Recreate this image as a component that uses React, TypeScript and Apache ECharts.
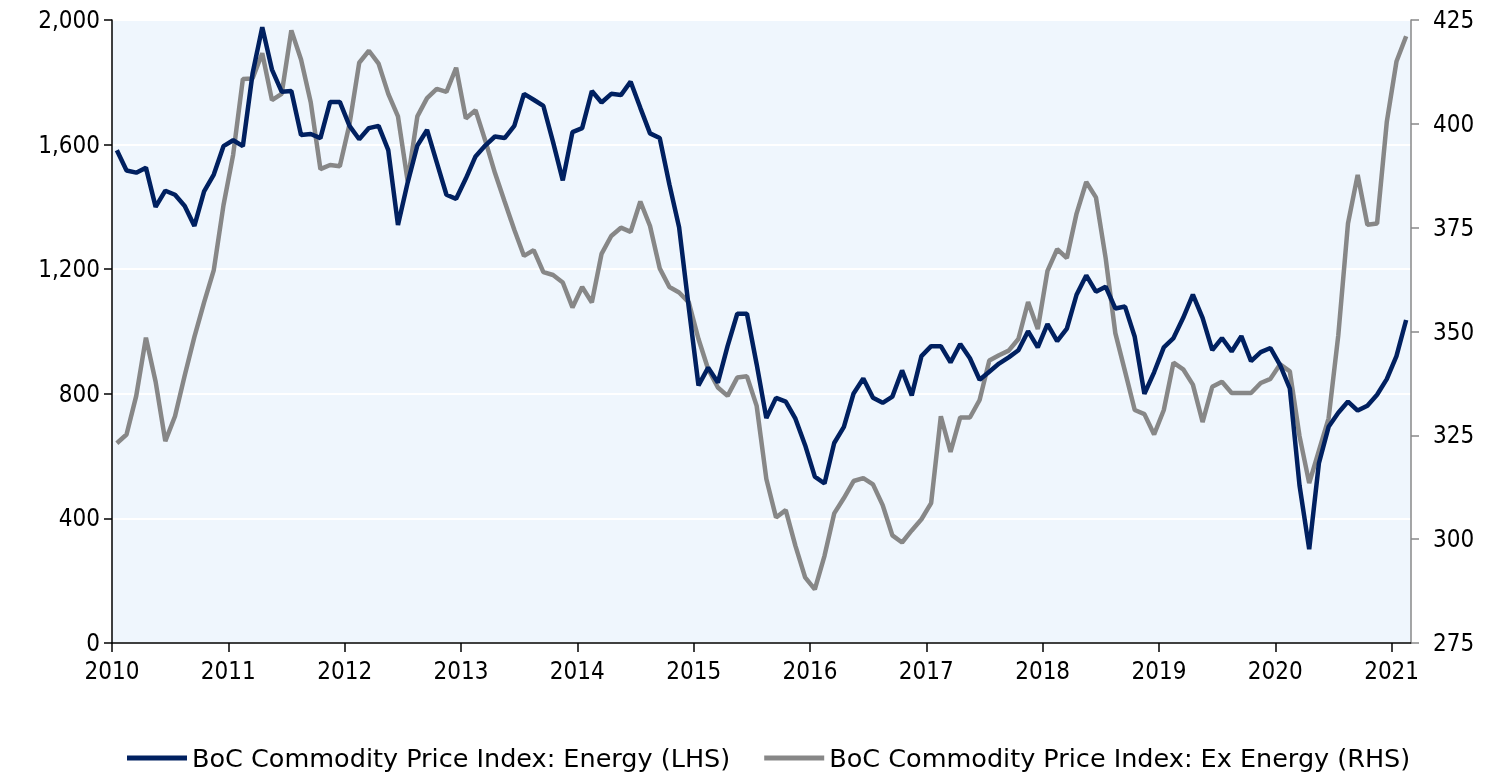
import React, { useEffect, useRef } from "react";
import * as echarts from "echarts";

const startYear = 2010;
const yearLabels = ["2010","2011","2012","2013","2014","2015","2016","2017","2018","2019","2020","2021"];

const energyLHS = [
  1582,1517,1510,1526,1400,1452,1439,1403,1339,1450,1504,1595,
  1614,1595,1828,1977,1841,1770,1772,1631,1634,1621,1737,1737,
  1660,1617,1653,1660,1582,1342,1478,1597,1647,1543,1439,1426,
  1491,1562,1597,1626,1621,1660,1763,1744,1724,1608,1485,1640,
  1653,1772,1735,1763,1759,1802,1718,1636,1621,1472,1335,1076,
  827,884,836,953,1057,1057,895,722,787,775,720,635,
  534,512,642,694,801,849,787,771,791,875,795,921,
  953,953,901,960,914,845,871,897,917,940,1001,949,
  1024,969,1009,1118,1180,1128,1144,1074,1080,983,800,869,
  949,979,1044,1118,1044,940,979,936,985,905,934,947,
  892,817,506,301,577,694,739,775,746,762,797,847,
  921,1037,
];

const exEnergyRHS = [
  323.1,325.2,334.5,348.5,337.9,323.6,329.6,339.4,348.7,357,364.8,380.4,
  392.6,410.8,410.9,417,405.7,407.2,422.5,415.5,405.2,389.1,390.1,389.8,
  399.9,414.7,417.6,414.5,407.2,401.8,386.2,401.8,406.2,408.4,407.7,413.5,
  401.3,403.3,396,388.2,381.3,374.5,368.2,369.6,364.3,363.6,361.8,355.8,
  360.7,357,368.7,373,375,374,381.3,375.4,365.2,360.7,359.4,357,
  348.2,340.9,336.5,334.5,338.9,339.2,332.1,314.5,305.2,307,298.4,290.8,
  287.9,296,306.2,309.9,314,314.7,313.2,308.2,300.9,299.2,302.1,304.8,
  308.7,329.6,321,329.3,329.3,333.5,343,344.3,345.4,348.2,357.1,350.6,
  364.6,369.8,367.7,378.4,386,382.3,367.7,349.6,340.4,331.1,330.1,325.2,
  331.1,342.5,340.9,337.2,328.2,336.7,337.9,335.2,335.2,335.2,337.6,338.6,
  342.1,340.4,324.8,313.5,321.3,329.1,349.1,376,387.7,375.7,376,400.4,
  415,421.1,
];

// month index -> position at the middle of that month on a month-count axis
const monthPos = (i: number) => i + 0.5;
const yearTicks = yearLabels.map((_, k) => k * 12);

const TICK_FONT = "'DejaVu Sans Condensed', 'Liberation Sans', sans-serif";
const LEGEND_FONT = "'DejaVu Sans', sans-serif";

export default function App() {
  const ref = useRef<HTMLDivElement>(null);
  useEffect(() => {
    if (!ref.current) return;
    const chart = echarts.init(ref.current, undefined, { renderer: "svg" });
    chart.setOption({
      animation: false,
      textStyle: { fontFamily: TICK_FONT },
      grid: {
        left: 112,
        right: 84,
        top: 20,
        bottom: 130,
        show: true,
        backgroundColor: "#EFF6FD",
        borderWidth: 0,
      },
      legend: {
        top: 740,
        left: 122,
        itemGap: 34,
        itemWidth: 60,
        itemHeight: 5,
        textStyle: { fontSize: 25.5, color: "#000", fontFamily: LEGEND_FONT },
        data: [
          { name: "BoC Commodity Price Index: Energy (LHS)", icon: "rect" },
          { name: "BoC Commodity Price Index: Ex Energy (RHS)", icon: "rect" },
        ],
      },
      xAxis: {
        type: "value",
        min: 0,
        max: energyLHS.length,
        interval: 12,
        axisLine: { show: true, lineStyle: { color: "#000", width: 1.5 } },
        axisTick: { show: true, length: 9, lineStyle: { color: "#000", width: 1.5 }, customValues: yearTicks },
        axisLabel: {
          customValues: yearTicks,
          formatter: (v: number) => String(startYear + Math.round(v / 12)),
          fontSize: 24,
          lineHeight: 20,
          color: "#000",
          margin: 18,
          fontFamily: TICK_FONT,
        },
        splitLine: { show: false },
      },
      yAxis: [
        {
          type: "value",
          min: 0,
          max: 2000,
          interval: 400,
          position: "left",
          axisLine: { show: true, lineStyle: { color: "#000", width: 1.5 } },
          axisTick: { show: true, length: 8, lineStyle: { color: "#000", width: 1.5 } },
          axisLabel: {
            fontSize: 24,
            lineHeight: 20,
            color: "#000",
            margin: 12,
            fontFamily: TICK_FONT,
            formatter: (v: number) => v.toLocaleString("en-US"),
          },
          splitLine: { show: true, lineStyle: { color: "#ffffff", width: 2 } },
        },
        {
          type: "value",
          min: 275,
          max: 425,
          interval: 25,
          position: "right",
          axisLine: { show: true, lineStyle: { color: "#888888", width: 1.5 } },
          axisTick: { show: true, length: 8, lineStyle: { color: "#888888", width: 1.5 } },
          axisLabel: { fontSize: 24, lineHeight: 20, color: "#000", margin: 22, fontFamily: TICK_FONT },
          splitLine: { show: false },
        },
      ],
      series: [
        {
          name: "BoC Commodity Price Index: Ex Energy (RHS)",
          type: "line",
          yAxisIndex: 1,
          showSymbol: false,
          symbol: "none",
          lineStyle: { color: "#878787", width: 4.5 },
          itemStyle: { color: "#878787" },
          data: exEnergyRHS.map((v, i) => [monthPos(i), v]),
          z: 2,
        },
        {
          name: "BoC Commodity Price Index: Energy (LHS)",
          type: "line",
          yAxisIndex: 0,
          showSymbol: false,
          symbol: "none",
          lineStyle: { color: "#002060", width: 4.5 },
          itemStyle: { color: "#002060" },
          data: energyLHS.map((v, i) => [monthPos(i), v]),
          z: 3,
        },
      ],
    });
    return () => chart.dispose();
  }, []);
  return (
    <div
      ref={ref}
      style={{ position: "fixed", left: 0, top: 0, width: 1495, height: 773 }}
    />
  );
}
